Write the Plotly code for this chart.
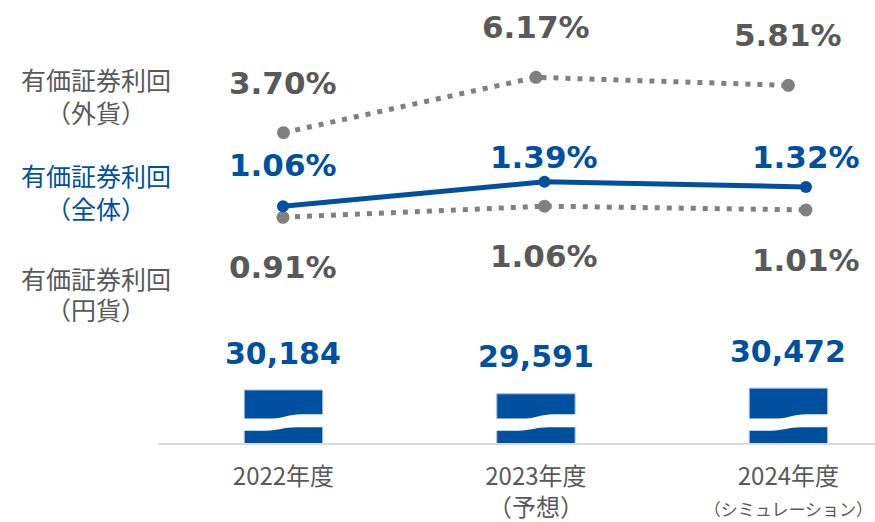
import plotly.graph_objects as go

# ---- data ----
categories = ["2022年度", "2023年度", "2024年度"]
category_notes = ["", "（予想）", "（シミュレーション）"]
securities_balance = [30184, 29591, 30472]          # bars
yield_foreign = [3.70, 6.17, 5.81]                   # 有価証券利回（外貨）
yield_total = [1.06, 1.39, 1.32]                     # 有価証券利回（全体）
yield_yen = [0.91, 1.06, 1.01]                       # 有価証券利回（円貨）
series_names = ["有価証券利回", "有価証券利回", "有価証券利回"]
series_notes = ["（外貨）", "（全体）", "（円貨）"]

# ---- styles ----
BLUE = "#0050A0"
GRAY = "#808080"
TXT_GRAY = "#595959"
NUM_FONT = "DejaVu Sans"
JP_FONT = "Noto Sans CJK JP"
H_PLOT = 443.0  # plot area height in px (used for decorative paper coords)

idx = list(range(len(categories)))
ticktext = []
for c, n in zip(categories, category_notes):
    if not n:
        ticktext.append(c)
    elif len(n) > 6:
        ticktext.append(c + "<br><span style='font-size:17px'>" + n + "</span>")
    else:
        ticktext.append(c + "<br>" + n)

fig = go.Figure()

fig.add_trace(go.Bar(
    x=idx, y=securities_balance, width=0.31,
    marker=dict(color=BLUE, line=dict(color="#9DB9DC", width=1)),
    xaxis="x", yaxis="y", showlegend=False, hoverinfo="skip",
))

dotted = dict(color=GRAY, width=5, dash="5px,7px")
fig.add_trace(go.Scatter(
    x=idx, y=yield_foreign, mode="lines+markers", xaxis="x", yaxis="y2",
    line=dotted, marker=dict(color=GRAY, size=13), showlegend=False,
))
fig.add_trace(go.Scatter(
    x=idx, y=yield_yen, mode="lines+markers", xaxis="x2", yaxis="y3",
    line=dotted, marker=dict(color=GRAY, size=13), showlegend=False,
))
fig.add_trace(go.Scatter(
    x=idx, y=yield_total, mode="lines+markers", xaxis="x2", yaxis="y3",
    line=dict(color=BLUE, width=5), marker=dict(color=BLUE, size=12),
    showlegend=False,
))

annotations = []
num_font = lambda col: dict(family=NUM_FONT, size=31, color=col, weight="bold")

for i, v in zip(idx, securities_balance):
    annotations.append(dict(x=i, y=v, xref="x", yref="y", text=f"{v:,}",
                            yshift=37, showarrow=False,
                            font=dict(family=NUM_FONT, size=30, color=BLUE, weight="bold")))
for i, v in zip(idx, yield_foreign):
    annotations.append(dict(x=i, y=v, xref="x", yref="y2", text=f"{v:.2f}%",
                            yshift=50, showarrow=False, font=num_font(TXT_GRAY)))
total_shift = [41, 25, 30]
for i, v in zip(idx, yield_total):
    annotations.append(dict(x=i, y=v, xref="x2", yref="y3", text=f"{v:.2f}%",
                            yshift=total_shift[i], showarrow=False, font=num_font(BLUE)))
for i, v in zip(idx, yield_yen):
    annotations.append(dict(x=i, y=v, xref="x2", yref="y3", text=f"{v:.2f}%",
                            yshift=-50, showarrow=False, font=num_font(TXT_GRAY)))

# left-side series labels
left_x = (96 - 158) / 717.0
row1_px = [79, 175, 277.5]
row2_px = [112, 207.5, 309]
label_cols = [TXT_GRAY, BLUE, TXT_GRAY]
for name, note, y1, y2, col in zip(series_names, series_notes, row1_px, row2_px, label_cols):
    annotations.append(dict(x=left_x, y=(H_PLOT - y1) / H_PLOT, xref="paper", yref="paper",
                            text=name, showarrow=False, xanchor="center", yanchor="middle",
                            borderpad=0,
                            font=dict(family=JP_FONT, size=25, color=col)))
    annotations.append(dict(x=left_x, y=(H_PLOT - y2) / H_PLOT, xref="paper", yref="paper",
                            text=note, showarrow=False, xanchor="center", yanchor="middle",
                            borderpad=0,
                            font=dict(family=JP_FONT, size=25, color=col)))

# wavy white break across each bar (decoration)
def p(px):
    return (H_PLOT - px) / H_PLOT

shapes = []
for i in idx:
    c = i
    hw = 0.175
    path = (
        f"M {c-hw},{p(418.5)} L {c-0.04},{p(418.5)} "
        f"C {c+0.0},{p(418.5)} {c+0.02},{p(414.3)} {c+0.07},{p(414.3)} "
        f"L {c+hw},{p(414.3)} L {c+hw},{p(427.3)} L {c+0.05},{p(427.3)} "
        f"C {c+0.0},{p(427.3)} {c-0.02},{p(430.7)} {c-0.07},{p(430.7)} "
        f"L {c-hw},{p(430.7)} Z"
    )
    shapes.append(dict(type="path", path=path, xref="x", yref="paper",
                       fillcolor="white", line=dict(width=0), layer="above"))

fig.update_layout(
    width=875, height=522,
    margin=dict(l=158, r=0, t=0, b=79, autoexpand=False),
    paper_bgcolor="white", plot_bgcolor="white",
    showlegend=False,
    xaxis=dict(range=[-0.497, 2.343], tickvals=idx, ticktext=ticktext,
               showline=True, linecolor="#D9D9D9", linewidth=2,
               showgrid=False, zeroline=False, ticks="", ticklabelstandoff=11,
               automargin=False, ticklabeloverflow="allow",
               tickfont=dict(family=JP_FONT, size=24, color=TXT_GRAY)),
    xaxis2=dict(range=[-0.478, 2.264], overlaying="x", anchor="y", visible=False),
    yaxis=dict(range=[21969, 90634], visible=False, automargin=False),
    yaxis2=dict(range=[-10.134, 9.616], overlaying="y", anchor="x", visible=False),
    yaxis3=dict(range=[-2.14, 3.846], overlaying="y", anchor="x", visible=False),
    annotations=annotations,
    shapes=shapes,
)

fig.write_html(
    "out.html",
    config={"displayModeBar": False},
    post_script="document.body.style.margin='0';document.body.style.padding='0';"
                "document.body.style.overflow='hidden';",
)
